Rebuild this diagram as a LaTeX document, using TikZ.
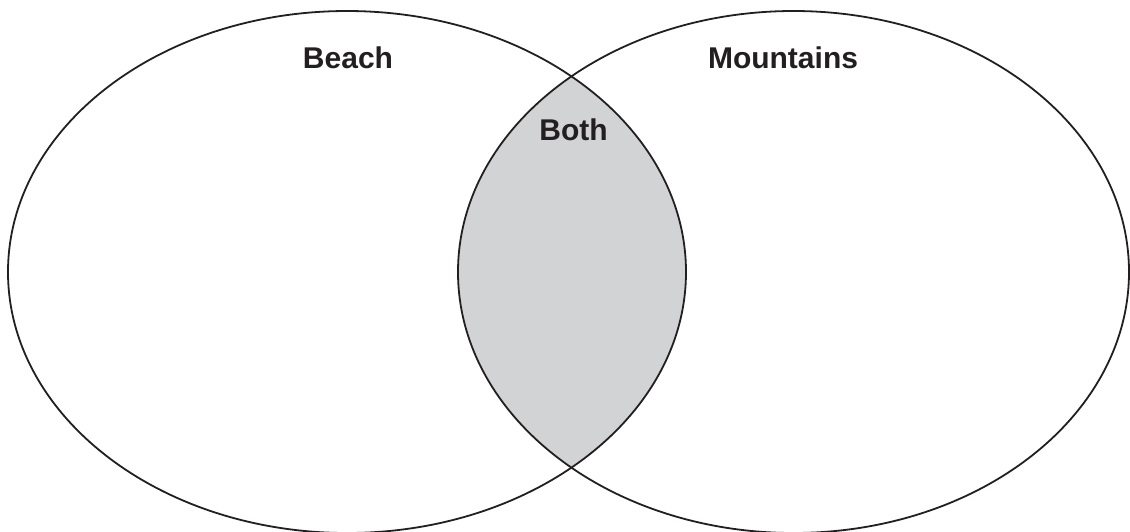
\documentclass[tikz,border=0pt]{standalone}
\usepackage{fontspec}
\setmainfont{Liberation Sans}
\definecolor{ink}{HTML}{231F20}
\definecolor{overlapc}{HTML}{D1D3D4}
\usetikzlibrary{positioning}

\begin{document}
\begin{tikzpicture}[x=1pt,y=-1pt,every node/.style={font=\bfseries\fontsize{30}{36}\selectfont,text=ink,anchor=base,inner sep=0pt}]
\tikzstyle{ring}=[draw=ink,line width=1.8pt]
\useasboundingbox (0,0) rectangle (1130,531);
% overlap
\begin{scope}
\clip (347,272) ellipse [x radius=339,y radius=261];
\fill[overlapc] (793.5,272) ellipse [x radius=335.5,y radius=261];
\end{scope}
\draw[ring] (347,272) ellipse [x radius=339,y radius=261];
\draw[ring] (793.5,272) ellipse [x radius=335.5,y radius=261];
\node (beach) at (348,68) {Beach};
\node (mountains) at (783,68) {Mountains};
\node (both) at (573.5,140) {Both};
\end{tikzpicture}
\end{document}
